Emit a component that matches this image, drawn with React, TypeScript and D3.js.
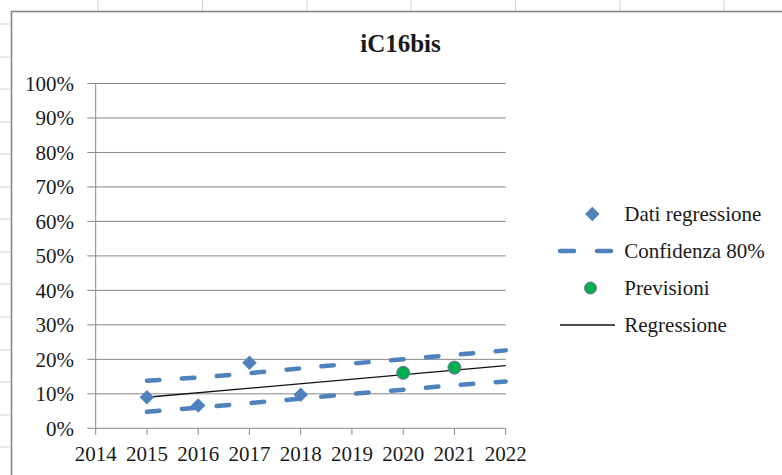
import React from "react";
import { scaleLinear, line, symbol, symbolSquare } from "d3";

// values (percent)
const years = [2015, 2016, 2017, 2018, 2019, 2020, 2021, 2022];
const datiYears = [2015, 2016, 2017, 2018];
const datiValues = [9.0, 6.6, 19.0, 9.7];
const previsioniYears = [2020, 2021];
const previsioniValues = [16.1, 17.6];
const upperBand = [13.8, 14.7, 16.0, 17.4, 18.8, 20.0, 21.3, 22.6];
const lowerBand = [4.8, 6.0, 7.3, 8.6, 10.0, 11.2, 12.5, 13.6];
const regressionYears = [2015, 2022];
const regressionValues = [9.0, 18.2];
const xTicks = [2014, 2015, 2016, 2017, 2018, 2019, 2020, 2021, 2022];
const yTicks = [0, 10, 20, 30, 40, 50, 60, 70, 80, 90, 100];
const legendLabels = ["Dati regressione", "Confidenza 80%", "Previsioni", "Regressione"];

const W = 782;
const H = 475;
const BLUE = "#4F81BD";
const GRID = "#868686";
const FONT = "Liberation Serif";
const TEXT = "#1a1a1a";

export default function App() {
	const x = scaleLinear().domain([2014, 2022]).range([95.7, 505.7]);
	const y = scaleLinear().domain([0, 100]).range([428.3, 83.5]);

	const pathGen = line<[number, number]>()
		.x((d) => x(d[0]))
		.y((d) => y(d[1]));

	const upperPath = pathGen(years.map((yr, i) => [yr, upperBand[i]]));
	const lowerPath = pathGen(years.map((yr, i) => [yr, lowerBand[i]]));
	const regPath = pathGen(regressionYears.map((yr, i) => [yr, regressionValues[i]]));
	// Excel diamond = square turned 45deg
	const diamond = symbol().type(symbolSquare).size(105)() as string;

	// spreadsheet cell borders peeking around the chart frame
	const colMarks = [98, 202.5, 307, 411, 515.5, 620, 724];
	const rowMarks = [24, 57, 89, 122, 154, 187, 219, 252, 284, 317, 350, 382, 415, 447];

	const legendY = [214, 251, 288, 325];

	return (
		<div style={{ position: "fixed", left: 0, top: 0 }}>
			<svg width={W} height={H} style={{ display: "block", background: "#fff" }}>
				{colMarks.map((cx) => (
					<line key={"c" + cx} x1={cx} x2={cx} y1={0} y2={11} stroke="#d4d4d4" strokeWidth={1} />
				))}
				{rowMarks.map((ry) => (
					<line key={"r" + ry} x1={0} x2={10} y1={ry} y2={ry} stroke="#d4d4d4" strokeWidth={1} />
				))}
				<rect x={11.5} y={11.5} width={900} height={600} fill="#fff" stroke={GRID} strokeWidth={1.6} />

				<text x={400.5} y={51.7} textAnchor="middle" fontFamily={FONT} fontWeight="bold" fontSize={25} fill={TEXT}>
					iC16bis
				</text>

				{/* gridlines + y axis */}
				{yTicks.map((t) => (
					<g key={"y" + t}>
						<line x1={87.3} x2={x(2022)} y1={y(t)} y2={y(t)} stroke={GRID} strokeWidth={1} />
						<text x={74} y={y(t)} dy="0.35em" textAnchor="end" fontFamily={FONT} fontSize={21} fill={TEXT}>
							{t}%
						</text>
					</g>
				))}
				<line x1={x(2014)} x2={x(2014)} y1={y(100)} y2={y(0)} stroke={GRID} strokeWidth={1} />
				{xTicks.map((t) => (
					<g key={"x" + t}>
						<line x1={x(t)} x2={x(t)} y1={y(0)} y2={y(0) + 6.5} stroke={GRID} strokeWidth={1} />
						<text x={x(t)} y={460.7} textAnchor="middle" fontFamily={FONT} fontSize={21} fill={TEXT}>
							{t}
						</text>
					</g>
				))}

				{/* confidence band */}
				<path d={upperPath ?? ""} fill="none" stroke={BLUE} strokeWidth={4.5} strokeDasharray="12.5 22.5" strokeLinecap="round" />
				<path d={lowerPath ?? ""} fill="none" stroke={BLUE} strokeWidth={4.5} strokeDasharray="12.5 22.5" strokeLinecap="round" />

				{/* regression */}
				<path d={regPath ?? ""} fill="none" stroke="#111" strokeWidth={1.3} />

				{datiYears.map((yr, i) => (
					<path key={"d" + yr} d={diamond} transform={`translate(${x(yr)},${y(datiValues[i])}) rotate(45)`} fill={BLUE} />
				))}
				{previsioniYears.map((yr, i) => (
					<circle key={"p" + yr} cx={x(yr)} cy={y(previsioniValues[i])} r={6.5} fill="#00B050" stroke="#7e6aa6" strokeWidth={1} />
				))}

				{/* legend */}
				<path d={diamond} transform={`translate(592.3,${legendY[0]}) rotate(45)`} fill={BLUE} />
				<line x1={560} x2={574} y1={legendY[1]} y2={legendY[1]} stroke={BLUE} strokeWidth={4.5} strokeLinecap="round" />
				<line x1={597} x2={611} y1={legendY[1]} y2={legendY[1]} stroke={BLUE} strokeWidth={4.5} strokeLinecap="round" />
				<circle cx={590.5} cy={legendY[2]} r={6} fill="#00B050" stroke="#7e6aa6" strokeWidth={1} />
				<line x1={560} x2={615} y1={legendY[3]} y2={legendY[3]} stroke="#111" strokeWidth={1.3} />
				{legendLabels.map((lab, i) => (
					<text key={lab} x={624.3} y={legendY[i]} dy="0.33em" fontFamily={FONT} fontSize={21} fill={TEXT}>
						{lab}
					</text>
				))}
			</svg>
		</div>
	);
}
